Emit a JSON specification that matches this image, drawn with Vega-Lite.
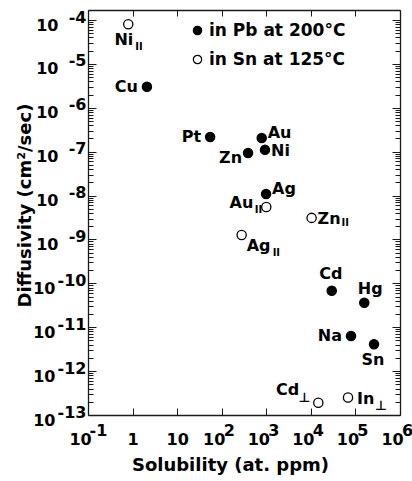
{
  "$schema": "https://vega.github.io/schema/vega-lite/v6.json",
  "width": 312,
  "height": 405,
  "autosize": {"type": "none"},
  "padding": {"left": 88, "top": 10, "right": 12, "bottom": 66},
  "background": "white",
  "config": {
    "view": {"stroke": null},
    "font": "DejaVu Sans",
    "axis": {
      "domainColor": "#1a1a1a",
      "domainWidth": 1.3,
      "tickColor": "#1a1a1a",
      "tickWidth": 1,
      "labelColor": "black",
      "titleColor": "black",
      "grid": false,
      "labelFont": "DejaVu Sans",
      "titleFont": "DejaVu Sans",
      "labelFontSize": 16,
      "labelFontWeight": "bold",
      "labelOverlap": false,
      "labelFlush": false,
      "labelBound": false
    },
    "text": {"font": "DejaVu Sans", "fontWeight": "bold", "fontSize": 16, "color": "black", "baseline": "middle"}
  },
  "data": {
    "values": [
      {"id": "NiII", "el": "Ni", "sub": "II", "series": "in Sn at 125°C", "S": 0.8, "D": 8.0e-5},
      {"id": "Cu", "el": "Cu", "sub": "", "series": "in Pb at 200°C", "S": 2.1, "D": 3.0e-6},
      {"id": "Pt", "el": "Pt", "sub": "", "series": "in Pb at 200°C", "S": 55, "D": 2.15e-7},
      {"id": "Au", "el": "Au", "sub": "", "series": "in Pb at 200°C", "S": 790, "D": 2.05e-7},
      {"id": "Zn", "el": "Zn", "sub": "", "series": "in Pb at 200°C", "S": 390, "D": 9.3e-8},
      {"id": "Ni", "el": "Ni", "sub": "", "series": "in Pb at 200°C", "S": 935, "D": 1.1e-7},
      {"id": "Ag", "el": "Ag", "sub": "", "series": "in Pb at 200°C", "S": 990, "D": 1.08e-8},
      {"id": "AuII", "el": "Au", "sub": "II", "series": "in Sn at 125°C", "S": 1000, "D": 5.5e-9},
      {"id": "ZnII", "el": "Zn", "sub": "II", "series": "in Sn at 125°C", "S": 10400, "D": 3.1e-9},
      {"id": "AgII", "el": "Ag", "sub": "II", "series": "in Sn at 125°C", "S": 280, "D": 1.26e-9},
      {"id": "Cd", "el": "Cd", "sub": "", "series": "in Pb at 200°C", "S": 29400, "D": 6.8e-11},
      {"id": "Hg", "el": "Hg", "sub": "", "series": "in Pb at 200°C", "S": 158000, "D": 3.6e-11},
      {"id": "Na", "el": "Na", "sub": "", "series": "in Pb at 200°C", "S": 79600, "D": 6.3e-12},
      {"id": "Sn", "el": "Sn", "sub": "", "series": "in Pb at 200°C", "S": 261000, "D": 4.1e-12},
      {"id": "CdT", "el": "Cd", "sub": "⊥", "series": "in Sn at 125°C", "S": 14700, "D": 1.9e-13},
      {"id": "InT", "el": "In", "sub": "⊥", "series": "in Sn at 125°C", "S": 68200, "D": 2.5e-13}
    ]
  },
  "encoding": {
    "x": {"field": "S", "type": "quantitative", "scale": {"type": "log", "domain": [0.1, 1000000], "nice": false}, "axis": null},
    "y": {"field": "D", "type": "quantitative", "scale": {"type": "log", "domain": [1e-13, 1.69e-4], "nice": false}, "axis": null}
  },
  "layer": [
    {
      "mark": {"type": "point", "shape": "circle", "filled": true, "stroke": "black", "strokeWidth": 1.3, "size": 85, "opacity": 1},
      "encoding": {
        "x": {
          "field": "S", "type": "quantitative",
          "scale": {"type": "log", "domain": [0.1, 1000000], "nice": false},
          "axis": {
            "orient": "bottom",
            "values": [0.1, 1, 10, 100, 1000, 10000, 100000, 1000000],
            "tickSize": -7,
            "labelExpr": "round(log(datum.value)/LN10) == 0 ? '1' : '10'",
            "labelPadding": 23,
            "labelOffset": {"condition": {"test": "datum.value > 0.5 && datum.value < 50", "value": 0}, "value": -8},
            "title": "Solubility (at. ppm)",
            "titleFontSize": 18,
            "titleFontWeight": "bold",
            "titleX": 142,
            "titleY": 50,
            "titleBaseline": "middle",
            "titleAlign": "center"
          }
        },
        "y": {
          "field": "D", "type": "quantitative",
          "scale": {"type": "log", "domain": [1e-13, 1.69e-4], "nice": false},
          "axis": {
            "orient": "left",
            "values": [1e-13,2e-13,3e-13,4e-13,5e-13,6e-13,7e-13,8e-13,9e-13,1e-12,2e-12,3e-12,4e-12,5e-12,6e-12,7e-12,8e-12,9e-12,1e-11,2e-11,3e-11,4e-11,5e-11,6e-11,7e-11,8e-11,9e-11,1e-10,2e-10,3e-10,4e-10,5e-10,6e-10,7e-10,8e-10,9e-10,1e-9,2e-9,3e-9,4e-9,5e-9,6e-9,7e-9,8e-9,9e-9,1e-8,2e-8,3e-8,4e-8,5e-8,6e-8,7e-8,8e-8,9e-8,1e-7,2e-7,3e-7,4e-7,5e-7,6e-7,7e-7,8e-7,9e-7,1e-6,2e-6,3e-6,4e-6,5e-6,6e-6,7e-6,8e-6,9e-6,1e-5,2e-5,3e-5,4e-5,5e-5,6e-5,7e-5,8e-5,9e-5,1e-4],
            "tickSize": {"condition": {"test": "abs(log(datum.value)/LN10 - round(log(datum.value)/LN10)) < 0.001", "value": -8}, "value": -5},
            "labelExpr": "abs(log(datum.value)/LN10 - round(log(datum.value)/LN10)) < 0.001 ? '10' : ''",
            "labelPadding": {"condition": {"test": "datum.value < 3e-10", "value": 41}, "value": 38},
            "labelOffset": 5,
            "title": "Diffusivity (cm²/sec)",
            "titleFontSize": 18,
            "titleFontWeight": "bold",
            "titleX": -63,
            "titleY": 195,
            "titleAngle": -90,
            "titleBaseline": "middle",
            "titleAlign": "center"
          }
        },
        "fill": {
          "field": "series", "type": "nominal",
          "scale": {"domain": ["in Pb at 200°C", "in Sn at 125°C"], "range": ["black", "white"]},
          "legend": {
            "title": null,
            "orient": "none",
            "legendX": 101,
            "legendY": 12,
            "direction": "vertical",
            "labelFont": "DejaVu Sans",
            "labelFontSize": 17,
            "labelFontWeight": "bold",
            "labelColor": "black",
            "symbolType": "circle",
            "symbolSize": 70,
            "symbolStrokeColor": "black",
            "symbolStrokeWidth": 1.2,
            "symbolOpacity": 1,
            "labelOffset": 3,
            "rowPadding": 11,
            "padding": 0
          }
        }
      }
    },
    {
      "mark": {"type": "point", "opacity": 0},
      "encoding": {
        "x": {
          "field": "S", "type": "quantitative",
          "scale": {"type": "log", "domain": [0.1, 1000000], "nice": false},
          "axis": {"orient": "top", "values": [0.1, 1, 10, 100, 1000, 10000, 100000, 1000000], "tickSize": -6, "labels": false, "title": null}
        },
        "y": {
          "field": "D", "type": "quantitative",
          "scale": {"type": "log", "domain": [1e-13, 1.69e-4], "nice": false},
          "axis": {
            "orient": "right",
            "values": [1e-13,2e-13,3e-13,4e-13,5e-13,6e-13,7e-13,8e-13,9e-13,1e-12,2e-12,3e-12,4e-12,5e-12,6e-12,7e-12,8e-12,9e-12,1e-11,2e-11,3e-11,4e-11,5e-11,6e-11,7e-11,8e-11,9e-11,1e-10,2e-10,3e-10,4e-10,5e-10,6e-10,7e-10,8e-10,9e-10,1e-9,2e-9,3e-9,4e-9,5e-9,6e-9,7e-9,8e-9,9e-9,1e-8,2e-8,3e-8,4e-8,5e-8,6e-8,7e-8,8e-8,9e-8,1e-7,2e-7,3e-7,4e-7,5e-7,6e-7,7e-7,8e-7,9e-7,1e-6,2e-6,3e-6,4e-6,5e-6,6e-6,7e-6,8e-6,9e-6,1e-5,2e-5,3e-5,4e-5,5e-5,6e-5,7e-5,8e-5,9e-5,1e-4],
            "tickSize": {"condition": {"test": "abs(log(datum.value)/LN10 - round(log(datum.value)/LN10)) < 0.001", "value": -8}, "value": -5},
            "labels": false,
            "title": null
          }
        }
      }
    },
    {
      "mark": {"type": "point", "opacity": 0},
      "encoding": {
        "x": {
          "field": "S", "type": "quantitative",
          "scale": {"type": "log", "domain": [0.1, 1000000], "nice": false},
          "axis": {
            "orient": "bottom",
            "values": [0.1, 100, 1000, 10000, 100000, 1000000],
            "ticks": false,
            "domain": false,
            "labelExpr": "round(log(datum.value)/LN10) < 0 ? '-1' : '' + round(log(datum.value)/LN10)",
            "labelPadding": 7,
            "labelOffset": {"condition": {"test": "datum.value < 1", "value": 10}, "value": 7},
            "title": null
          }
        },
        "y": {
          "field": "D", "type": "quantitative",
          "scale": {"type": "log", "domain": [1e-13, 1.69e-4], "nice": false},
          "axis": {
            "orient": "left",
            "values": [1e-13, 1e-12, 1e-11, 1e-10, 1e-9, 1e-8, 1e-7, 1e-6, 1e-5, 1e-4],
            "ticks": false,
            "domain": false,
            "labelExpr": "'-' + abs(round(log(datum.value)/LN10))",
            "labelPadding": 2,
            "labelOffset": -3,
            "title": null
          }
        }
      }
    },
    {
      "transform": [{"filter": "indexof(['Cu','Pt','Na'], datum.id) >= 0"}],
      "mark": {"type": "text", "align": "right", "dx": -9, "dy": 0},
      "encoding": {"text": {"field": "el"}}
    },
    {
      "transform": [{"filter": "indexof(['Ni','ZnII'], datum.id) >= 0"}],
      "mark": {"type": "text", "align": "left", "dx": 6, "dy": 1},
      "encoding": {"text": {"field": "el"}}
    },
    {
      "transform": [{"filter": "datum.id == 'InT'"}],
      "mark": {"type": "text", "align": "left", "dx": 9, "dy": 1},
      "encoding": {"text": {"field": "el"}}
    },
    {
      "transform": [{"filter": "indexof(['Au','Ag'], datum.id) >= 0"}],
      "mark": {"type": "text", "align": "left", "dx": 6, "dy": -5},
      "encoding": {"text": {"field": "el"}}
    },
    {
      "transform": [{"filter": "datum.id == 'Zn'"}],
      "mark": {"type": "text", "align": "right", "dx": -6, "dy": 5},
      "encoding": {"text": {"field": "el"}}
    },
    {
      "transform": [{"filter": "datum.id == 'Cd'"}],
      "mark": {"type": "text", "align": "center", "dx": -1, "dy": -17},
      "encoding": {"text": {"field": "el"}}
    },
    {
      "transform": [{"filter": "datum.id == 'Hg'"}],
      "mark": {"type": "text", "align": "center", "dx": 6, "dy": -14},
      "encoding": {"text": {"field": "el"}}
    },
    {
      "transform": [{"filter": "datum.id == 'Sn'"}],
      "mark": {"type": "text", "align": "center", "dx": -1, "dy": 16},
      "encoding": {"text": {"field": "el"}}
    },
    {
      "transform": [{"filter": "datum.id == 'NiII'"}],
      "mark": {"type": "text", "align": "right", "dx": 5, "dy": 16},
      "encoding": {"text": {"field": "el"}}
    },
    {
      "transform": [{"filter": "datum.id == 'NiII'"}],
      "mark": {"type": "text", "align": "left", "dx": 7, "dy": 23, "fontSize": 10},
      "encoding": {"text": {"field": "sub"}}
    },
    {
      "transform": [{"filter": "datum.id == 'AuII'"}],
      "mark": {"type": "text", "align": "right", "dx": -13, "dy": -4},
      "encoding": {"text": {"field": "el"}}
    },
    {
      "transform": [{"filter": "datum.id == 'AuII'"}],
      "mark": {"type": "text", "align": "right", "dx": -4, "dy": 3, "fontSize": 10},
      "encoding": {"text": {"field": "sub"}}
    },
    {
      "transform": [{"filter": "datum.id == 'CdT'"}],
      "mark": {"type": "text", "align": "right", "dx": -19, "dy": -13},
      "encoding": {"text": {"field": "el"}}
    },
    {
      "transform": [{"filter": "datum.id == 'CdT'"}],
      "mark": {"type": "text", "align": "right", "dx": -8, "dy": -5, "fontSize": 13},
      "encoding": {"text": {"field": "sub"}}
    },
    {
      "transform": [{"filter": "datum.id == 'ZnII'"}],
      "mark": {"type": "text", "align": "left", "dx": 30, "dy": 5, "fontSize": 10},
      "encoding": {"text": {"field": "sub"}}
    },
    {
      "transform": [{"filter": "datum.id == 'InT'"}],
      "mark": {"type": "text", "align": "left", "dx": 27, "dy": 8, "fontSize": 13},
      "encoding": {"text": {"field": "sub"}}
    },
    {
      "transform": [{"filter": "datum.id == 'AgII'"}],
      "mark": {"type": "text", "align": "left", "dx": 5, "dy": 11},
      "encoding": {"text": {"field": "el"}}
    },
    {
      "transform": [{"filter": "datum.id == 'AgII'"}],
      "mark": {"type": "text", "align": "left", "dx": 31, "dy": 18, "fontSize": 10},
      "encoding": {"text": {"field": "sub"}}
    }
  ],
  "resolve": {"axis": {"x": "independent", "y": "independent"}}
}
